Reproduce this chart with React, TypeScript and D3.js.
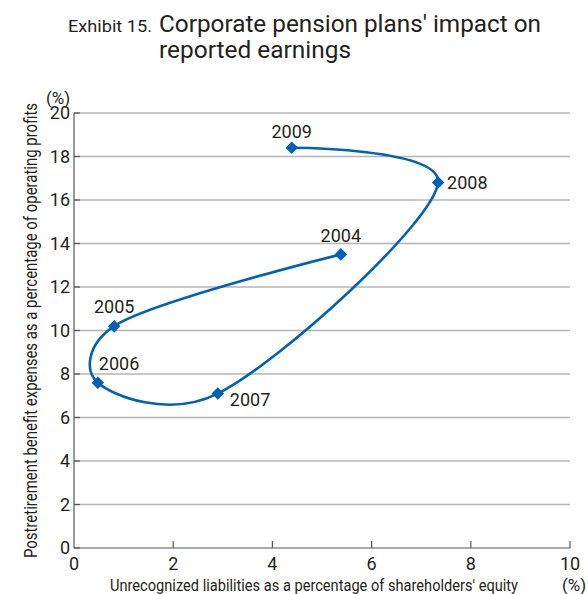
import React from "react";
import * as d3 from "d3";

const years = ["2004", "2005", "2006", "2007", "2008", "2009"];
const liabilities = [5.38, 0.81, 0.48, 2.9, 7.34, 4.39];
const expenses = [13.5, 10.2, 7.6, 7.1, 16.8, 18.4];
const xTicks = [0, 2, 4, 6, 8, 10];
const yTicks = [0, 2, 4, 6, 8, 10, 12, 14, 16, 18, 20];
// label placement relative to the marker: [dx, dy, anchor]
const labelPos: [number, number, string][] = [
  [0, -12, "middle"],
  [0, -13, "middle"],
  [1, -13, "start"],
  [12, 12, "start"],
  [9, 6, "start"],
  [0, -10, "middle"],
];

const W = 588;
const H = 594;
const FONT = "Roboto, 'Liberation Sans', Arial, sans-serif";
const TEXT = "#231f20";
const BLUE = "#0062b0";

export default function App() {
  const x = d3.scaleLinear().domain([0, 10]).range([74, 570]);
  const y = d3.scaleLinear().domain([0, 20]).range([548, 113]);
  const pts = years.map((yr, i) => ({ yr, x: liabilities[i], y: expenses[i] }));
  const line = d3
    .line<{ x: number; y: number }>()
    .x((d) => x(d.x))
    .y((d) => y(d.y))
    .curve(d3.curveCatmullRom.alpha(0.2));
  const diamond = d3.symbol(d3.symbolDiamond2 ?? d3.symbolDiamond, 100)();

  return (
    <div style={{ position: "fixed", left: 0, top: 0 }}>
      <svg width={W} height={H} style={{ display: "block", background: "#fff" }} fontFamily={FONT}>
        {/* Title */}
        <text x={68} y={32} fontSize={17} fill={TEXT} textLength={84} lengthAdjust="spacingAndGlyphs">Exhibit 15.</text>
        <text x={159} y={32} fontSize={24.5} fill={TEXT} textLength={382} lengthAdjust="spacingAndGlyphs">
          Corporate pension plans' impact on
        </text>
        <text x={159} y={58} fontSize={24.5} fill={TEXT} textLength={192} lengthAdjust="spacingAndGlyphs">
          reported earnings
        </text>

        {/* Gridlines */}
        {yTicks.filter((t) => t > 0).map((t) => (
          <line key={t} x1={x(0)} x2={x(10)} y1={y(t)} y2={y(t)} stroke="#b5b5b5" strokeWidth={1.3} />
        ))}
        {/* Axes */}
        <line x1={x(0)} x2={x(0)} y1={y(20)} y2={y(0)} stroke="#555" strokeWidth={1.2} />
        <line x1={x(0)} x2={x(10)} y1={y(0)} y2={y(0)} stroke="#555" strokeWidth={1.2} />
        {xTicks.filter((t) => t > 0).map((t) => (
          <line key={t} x1={x(t)} x2={x(t)} y1={y(0)} y2={y(0) - 7} stroke="#555" strokeWidth={1.2} />
        ))}
        {yTicks.map((t) => (
          <line key={t} x1={x(0)} x2={x(0) + 6} y1={y(t)} y2={y(t)} stroke="#555" strokeWidth={1.2} />
        ))}

        {/* Tick labels */}
        {yTicks.map((t) => (
          <text key={t} x={70} y={y(t)} dy="0.36em" textAnchor="end" fontSize={18} fill={TEXT}>
            {t}
          </text>
        ))}
        {xTicks.map((t) => (
          <text key={t} x={x(t)} y={570} textAnchor="middle" fontSize={18} fill={TEXT}>
            {t}
          </text>
        ))}
        <text x={58} y={104} textAnchor="middle" fontSize={17} fill={TEXT}>(%)</text>
        <text x={574} y={591} textAnchor="middle" fontSize={17} fill={TEXT}>(%)</text>

        {/* Axis titles */}
        <text x={110} y={591} fontSize={17} fill={TEXT} textLength={408} lengthAdjust="spacingAndGlyphs">
          Unrecognized liabilities as a percentage of shareholders' equity
        </text>
        <text
          transform="translate(37,558) rotate(-90)"
          x={0}
          y={0}
          fontSize={17.5}
          fill={TEXT}
          textLength={455}
          lengthAdjust="spacingAndGlyphs"
        >
          Postretirement benefit expenses as a percentage of operating profits
        </text>

        {/* Series */}
        <path d={line(pts) ?? ""} fill="none" stroke={BLUE} strokeWidth={2.6} />
        {pts.map((p) => (
          <path key={p.yr} d={diamond ?? ""} transform={`translate(${x(p.x)},${y(p.y)})`} fill={BLUE} />
        ))}
        {pts.map((p, i) => (
          <text
            key={"l" + p.yr}
            x={x(p.x) + labelPos[i][0]}
            y={y(p.y) + labelPos[i][1]}
            textAnchor={labelPos[i][2] as any}
            fontSize={18}
            fill={TEXT}
          >
            {p.yr}
          </text>
        ))}
      </svg>
    </div>
  );
}
